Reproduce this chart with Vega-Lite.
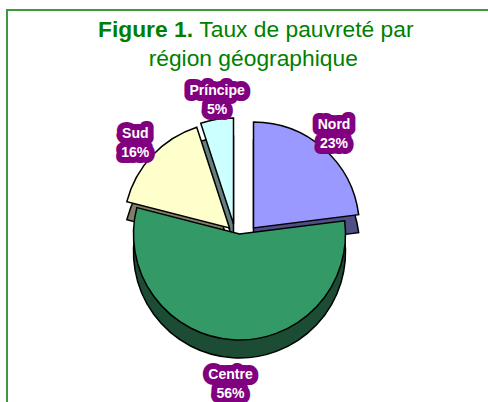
{
  "$schema": "https://vega.github.io/schema/vega-lite/v6.json",
  "width": 481,
  "height": 392,
  "autosize": {"type": "none"},
  "padding": {"left": 7, "top": 10, "right": 0, "bottom": 0},
  "background": "white",
  "view": {"stroke": "#3c9a3c", "strokeWidth": 2, "strokeDash": [481, 873, 392], "fill": "white"},
  "title": {
    "text": "Figure 1.",
    "subtitle": ["\u200b\u00a0\u00a0\u00a0\u00a0\u00a0\u00a0\u00a0\u00a0\u00a0\u00a0\u00a0\u00a0\u00a0\u00a0\u00a0\u00a0Taux de pauvreté par", "\u200b\u00a0\u00a0\u00a0\u00a0\u00a0\u00a0\u00a0\u00a0région géographique"],
    "anchor": "start",
    "frame": "group",
    "orient": "top",
    "dx": 91,
    "offset": -61,
    "font": "Liberation Sans",
    "fontSize": 22.8,
    "fontWeight": "bold",
    "color": "#008000",
    "subtitleFont": "Liberation Sans",
    "subtitleFontSize": 22.8,
    "subtitleFontWeight": "normal",
    "subtitleColor": "#008000",
    "subtitlePadding": -23,
    "subtitleLineHeight": 29
  },
  "data": {
    "values": [
      {"region": "Nord", "value": 23, "label": "Nord\n23%", "ord": 1},
      {"region": "Centre", "value": 56, "label": "Centre\n56%", "ord": 2},
      {"region": "Sud", "value": 16, "label": "Sud\n16%", "ord": 3},
      {"region": "Príncipe", "value": 5, "label": "Príncipe\n5%", "ord": 4}
    ]
  },
  "encoding": {
    "theta": {"field": "value", "type": "quantitative", "stack": true},
    "order": {"field": "ord", "type": "quantitative"}
  },
  "layer": [
    {
      "mark": {
        "type": "arc",
        "radius": 106,
        "stroke": "black",
        "strokeWidth": 1.5,
        "xOffset": {"expr": "datum.region === 'Nord' ? 6 : datum.region === 'Centre' ? -8 : datum.region === 'Sud' ? -18 : -14"},
        "yOffset": {"expr": "datum.region === 'Nord' ? 40 : datum.region === 'Centre' ? 46 : datum.region === 'Sud' ? 40 : 36"}
      },
      "encoding": {
        "fill": {
          "field": "region",
          "type": "nominal",
          "scale": {"domain": ["Nord", "Centre", "Sud", "Príncipe"], "range": ["#4f4f85", "#1c4d34", "#80806a", "#668080"]},
          "legend": null
        }
      }
    },
    {
      "mark": {
        "type": "arc",
        "radius": 106,
        "stroke": "black",
        "strokeWidth": 1.5,
        "xOffset": {"expr": "datum.region === 'Nord' ? 6 : datum.region === 'Centre' ? -8 : datum.region === 'Sud' ? -18 : -14"},
        "yOffset": {"expr": "datum.region === 'Nord' ? 22 : datum.region === 'Centre' ? 28 : datum.region === 'Sud' ? 22 : 18"}
      },
      "encoding": {
        "fill": {
          "field": "region",
          "type": "nominal",
          "scale": {"domain": ["Nord", "Centre", "Sud", "Príncipe"], "range": ["#9999ff", "#339966", "#ffffcc", "#ccffff"]},
          "legend": null
        }
      }
    },
    {
      "mark": {
        "type": "text",
        "radius": 143,
        "xOffset": -8,
        "yOffset": 26,
        "font": "Liberation Sans",
        "fontSize": 14,
        "fontWeight": "bold",
        "lineBreak": "\n",
        "lineHeight": 19,
        "fill": "#800080",
        "stroke": "#800080",
        "strokeWidth": 12,
        "strokeJoin": "round"
      },
      "encoding": {"text": {"field": "label", "type": "nominal"}}
    },
    {
      "mark": {
        "type": "text",
        "radius": 143,
        "xOffset": -8,
        "yOffset": 26,
        "font": "Liberation Sans",
        "fontSize": 14,
        "fontWeight": "bold",
        "lineBreak": "\n",
        "lineHeight": 19,
        "fill": "white"
      },
      "encoding": {"text": {"field": "label", "type": "nominal"}}
    }
  ],
  "resolve": {"scale": {"fill": "independent"}}
}
